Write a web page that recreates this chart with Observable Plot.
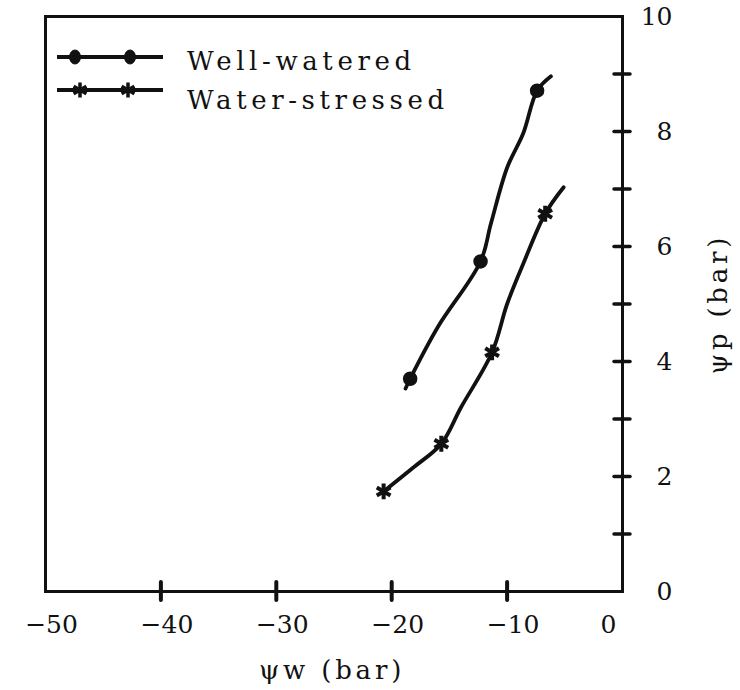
<!DOCTYPE html>
<html><head><meta charset="utf-8">
<script src="https://cdn.jsdelivr.net/npm/d3@7"></script>
<script src="https://cdn.jsdelivr.net/npm/@observablehq/plot@0.6"></script>
<style>
body{margin:0;background:#fff}
#chart{width:740px;height:690px}
</style>
</head><body><div id="chart"></div>
<script>
const seriesNames = ["Well-watered", "Water-stressed"];
// plotted markers (ψw, ψp in bar)
const wellX = [-18.4, -12.3, -7.4];
const wellY = [3.70, 5.74, 8.71];
const stressX = [-20.7, -15.7, -11.3, -6.7];
const stressY = [1.74, 2.57, 4.16, 6.57];
// hand-drawn curves (including tails)
const wellPathX = [-18.8, -18.4, -16.0, -12.3, -11.4, -10.0, -8.6, -7.4, -6.2];
const wellPathY = [3.53, 3.70, 4.60, 5.74, 6.40, 7.37, 7.97, 8.71, 8.96];
const stressPathX = [-20.7, -18.1, -15.7, -14.0, -11.3, -10.0, -8.6, -6.7, -5.1];
const stressPathY = [1.74, 2.16, 2.57, 3.20, 4.16, 5.00, 5.70, 6.57, 7.03];
const xTicks = [-50, -40, -30, -20, -10, 0];
const yTicks = [1, 2, 3, 4, 5, 6, 7, 8, 9];
const yLabels = [0, 2, 4, 6, 8, 10];
const xTitle = "ψw (bar)";
const yTitle = "ψp (bar)";

const wellPts = wellX.map((x, i) => ({x, y: wellY[i]}));
const stressPts = stressX.map((x, i) => ({x, y: stressY[i]}));
const wellPath = wellPathX.map((x, i) => ({x, y: wellPathY[i]}));
const stressPath = stressPathX.map((x, i) => ({x, y: stressPathY[i]}));

const ink = "#111";
const numFont = "DejaVu Serif";
const typeFont = "DejaVu Serif";

const chart = Plot.plot({
  width: 740,
  height: 690,
  marginLeft: 45,
  marginRight: 118,
  marginTop: 16,
  marginBottom: 99,
  style: {background: "#fff", color: ink},
  x: {domain: [-50, 0], axis: null},
  y: {domain: [0, 10], axis: null},
  marks: [
    Plot.frame({stroke: ink, strokeWidth: 3}),
    // crossing ticks on bottom axis
    Plot.ruleX(xTicks.slice(1, -1), {x: d => d, y1: () => 0, y2: () => 0, insetTop: -9, insetBottom: -9, stroke: ink, strokeWidth: 4, strokeLinecap: "round"}),
    // crossing ticks on right axis
    Plot.ruleY(yTicks, {y: d => d, x1: () => 0, x2: () => 0, insetLeft: -8, insetRight: -8, stroke: ink, strokeWidth: 3.5, strokeLinecap: "round"}),
    Plot.axisX({ticks: xTicks.slice(0, -1), tickSize: 0, tickPadding: 24, fontSize: 25, fontFamily: numFont, dx: 6, label: null}),
    Plot.axisX({ticks: xTicks.slice(-1), tickSize: 0, tickPadding: 24, fontSize: 25, fontFamily: numFont, dx: -14, label: null}),
    Plot.axisY({anchor: "right", ticks: yLabels, tickSize: 0, tickPadding: 50, textAnchor: "end", fontSize: 25, fontFamily: numFont, label: null}),
    Plot.text([xTitle], {frameAnchor: "bottom", dy: 79, dx: -2, text: d => d, fontSize: 26, fontFamily: typeFont, textAnchor: "middle", lineAnchor: "middle", fill: ink}),
    Plot.text([yTitle], {frameAnchor: "right", dx: 96, rotate: -90, text: d => d, fontSize: 26, fontFamily: typeFont, textAnchor: "middle", lineAnchor: "middle", fill: ink}),
    Plot.line(wellPath, {x: "x", y: "y", curve: "catmull-rom", stroke: ink, strokeWidth: 3.8}),
    Plot.line(stressPath, {x: "x", y: "y", curve: "catmull-rom", stroke: ink, strokeWidth: 3.8}),
    Plot.dot(wellPts, {x: "x", y: "y", r: 6.5, fill: ink, stroke: ink}),
    Plot.dot(stressPts, {x: "x", y: "y", r: 7.5, symbol: "asterisk", stroke: ink, strokeWidth: 4})
  ]
});

// letter-spacing for typewriter-like titles
d3.select(chart).selectAll("text").filter(function(){ return this.textContent === xTitle || this.textContent === yTitle; })
  .style("letter-spacing", "3.8px");

// legend drawn inside the frame (top-left)
const svg = d3.select(chart);
const lg = svg.append("g").attr("fill", ink).attr("stroke", ink);
const rows = [
  {name: seriesNames[0], ly: 57, ty: 61, kind: "dot", mx: [75, 130]},
  {name: seriesNames[1], ly: 90, ty: 100, kind: "ast", mx: [80, 128]}
];
rows.forEach(r => {
  lg.append("line").attr("x1", 57).attr("x2", 163).attr("y1", r.ly).attr("y2", r.ly).attr("stroke-width", 3.8);
  r.mx.forEach(mx => {
    if (r.kind === "dot") {
      lg.append("ellipse").attr("cx", mx).attr("cy", r.ly).attr("rx", 5.5).attr("ry", 7);
    } else {
      lg.append("path").attr("d", d3.symbol(d3.symbolAsterisk, Math.PI * 49)()).attr("transform", `translate(${mx},${r.ly})`).attr("fill", "none").attr("stroke-width", 3.5);
    }
  });
  lg.append("text").attr("x", 187).attr("y", r.ty).attr("dy", "0.35em").attr("stroke", "none")
    .attr("text-anchor", "start")
    .attr("font-family", typeFont).attr("font-size", 26).style("letter-spacing", "4.6px").text(r.name);
});

document.getElementById("chart").appendChild(chart);
</script>
</body></html>
